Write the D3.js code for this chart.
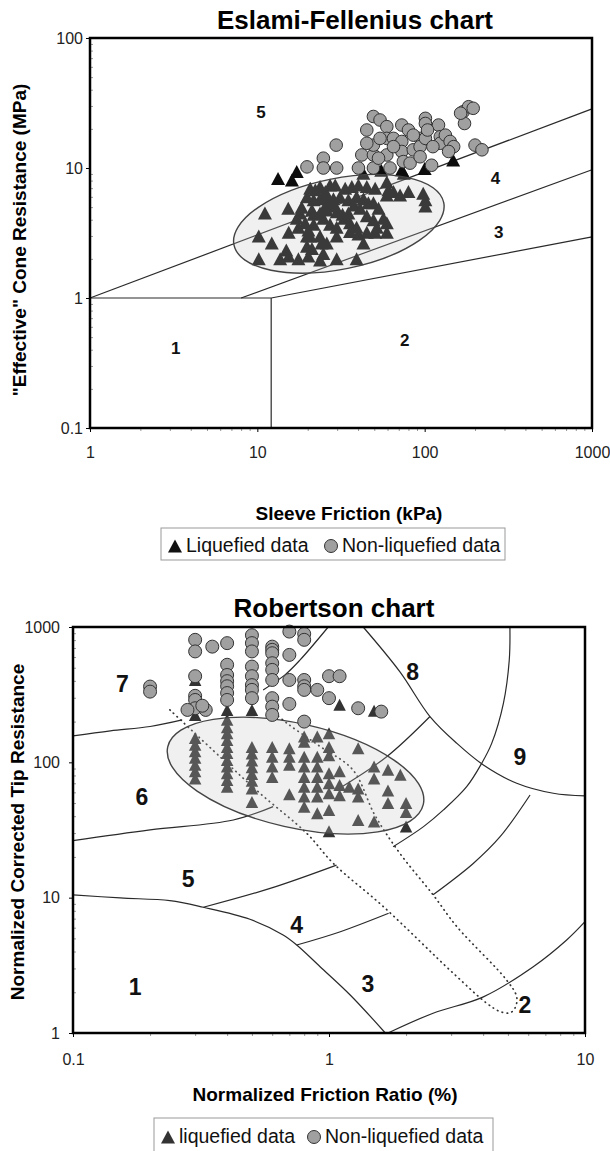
<!DOCTYPE html>
<html>
<head>
<meta charset="utf-8">
<script src="https://cdn.jsdelivr.net/npm/d3@7"></script>
<style>
body { margin: 0; background: #fff; }
svg { display: block; font-family: "Liberation Sans", Arial, sans-serif; }
.zone-line { fill: none; stroke: #2a2a2a; stroke-width: 1.2; }
.dotted { fill: none; stroke: #333; stroke-width: 1.7; stroke-dasharray: 0.5,4.5; stroke-linecap: round; }
.frame { fill: none; stroke: #000; stroke-width: 2.5; }
</style>
</head>
<body>
<svg width="610" height="1151"></svg>
<script>

//// Eslami-Fellenius chart : [sleeve friction kPa, cone resistance MPa]

var efLiquefied = [
  [13.3,8.3],[16.1,8.1],[17.2,9.4],[43,9.1],[55,9.6],[73,9.7],[75,9.1],[100,9.9],[148,11.5],
  [20.7,7.0],[23.7,7.2],[27.2,7.4],[29.2,7.4],[33.5,7.0],[36.7,7.2],[40.2,7.4],[45.1,7.2],[50.6,7.0],[59.4,7.8],[60.7,6.8],[71.3,6.2],[80,6.6],[98,6.4],[101,5.7],[101,5.1],
  [15.3,4.9],[19.8,6.0],[21.7,5.7],[23.7,5.8],[26,6.0],[28.5,5.8],[31.2,6.0],[35,5.7],[39.2,6.0],[43.1,5.8],[49.4,5.4],[53,4.9],[21.2,4.75],[18,4.5],
  [11.1,4.5],[17.2,4.1],[19.3,3.8],[21.7,3.7],[24.8,4.1],[27.2,3.7],[29.8,3.5],[33,4.1],[35.8,3.8],[39.2,3.5],[45.1,4.3],[49.4,4.0],[51.8,3.5],[56.7,4.1],[59.4,3.8],[23.7,4.5],[26,4.75],[29.8,4.6],[41.1,4.9],[35,4.5],
  [10.2,3.0],[12.2,2.65],[15.4,3.2],[17.6,3.5],[20.2,3.34],[23.7,3.0],[26,2.65],[29.8,3.0],[35.8,3.25],[40.2,3.1],[45.1,3.2],[50.6,3.2],[59.4,3.2],[20.7,3.0],
  [10.2,2.0],[13.7,2.0],[14.9,2.34],[15.4,2.1],[17.6,2.0],[20.2,2.1],[21.2,2.4],[23.7,1.96],[24.8,2.2],[29.8,2.0],[39.2,2.0],[19.8,2.5],[24.2,2.65],
  [22.2,6.8],[25.5,6.6],[27.2,5.4],[25.5,5.1],[29.2,5.1],[21.7,4.4],[32.3,4.4],[37.9,5.2],[46.1,5.4],[18.4,5.0],[59.4,6.2],[65.1,6.6],[19.8,3.0],[43.1,2.65]
];

var efNonLiquefied = [
  [29.6,15.0],[24.8,11.9],[24.8,10.0],[29.8,10.0],[19.8,10.2],[40.2,10.0],[42.1,12.6],[49.4,12.6],[49.4,15.0],[45.1,19.6],
  [49.4,24.9],[54.1,23.4],[59.4,20.8],[59.4,16.9],[65.1,16.9],[59.4,12.6],[62.1,10.0],[73,21.4],[73,16.0],[73,13.4],
  [74.6,11.2],[81.8,10.9],[80,19.6],[85.5,13.8],[93.9,16.9],[93.9,14.6],[93.9,12.2],[101,24.1],[101,22.0],[101,16.9],
  [110,10.5],[121,21.4],[124,17.4],[124,15.5],[133,17.9],[142,16.0],[149,14.6],[139,13.4],[170,27.1],[183,29.6],
  [195,28.8],[173,22.0],[200,15.0],[49.4,10.0],[54.1,16.9],[65.1,14.6],[85.5,17.9],[112,14.6],[104,19.6],[45.1,15.5],
  [53,11.9],[220,13.8],[164,26.4]
];

var efBoundaries = [
  [[1,1],[12.1,1]],
  [[12.1,0.1],[12.1,1]],
  [[1,1],[1000,28.5]],
  [[8,1],[1000,9.7]],
  [[12.1,1],[1000,2.95]]
];

var efZones = [["5",10.5,27],["4",265,8.4],["3",277,3.2],["1",3.25,0.41],["2",76,0.48]];
var efXTicks = [1,10,100,1000];
var efYTicks = [0.1,1,10,100];

//// Robertson chart : [normalized friction ratio %, normalized tip resistance]

var robLiquefied = [
  [0.3,151],[0.3,135],[0.3,121],[0.3,108],[0.3,96],[0.3,86],[0.3,76],[0.3,224],[0.3,406],
  [0.4,244],[0.4,206],[0.4,182],[0.4,164],[0.4,146],[0.4,130],[0.4,117],[0.4,104],[0.4,93],[0.4,83],[0.4,74],[0.4,66],
  [0.5,244],[0.5,130],[0.5,116],[0.5,103],[0.5,92],[0.5,82],[0.5,73],[0.5,64],[0.5,51],
  [0.6,130],[0.6,110],[0.6,93],[0.6,78],
  [0.7,127],[0.7,110],[0.7,96],[0.7,58],
  [0.8,155],[0.8,142],[0.8,110],[0.8,93],[0.8,78],[0.8,66],[0.8,56],[0.8,47],
  [0.9,155],[0.9,110],[0.9,93],[0.9,78],[0.9,66],[0.9,56],[0.9,42],
  [1.0,164],[1.0,130],[1.0,113],[1.0,83],[1.0,70],[1.0,59],[1.0,44.5],[1.0,31],
  [1.1,86],[1.1,68],[1.1,57],[1.1,266],
  [1.2,66],
  [1.3,127],[1.3,64],[1.3,56],[1.3,37.5],
  [1.5,93],[1.5,76],[1.5,36.5],[1.5,241],
  [1.7,88],[1.7,62],[1.7,50],
  [1.9,81],
  [2.0,50],[2.0,43],[2.0,33.5]
];

var robNonLiquefied = [
  [0.2,363],[0.2,333],
  [0.3,804],[0.3,660],[0.3,433],[0.3,310],[0.3,289],[0.3,251],[0.28,244],[0.33,244],[0.32,262],
  [0.35,716],
  [0.4,760],[0.4,526],[0.4,442],[0.4,398],[0.4,365],[0.4,325],[0.4,289],
  [0.5,870],[0.5,760],[0.5,660],[0.5,510],[0.5,433],[0.5,372],[0.5,343],[0.5,298],
  [0.6,716],[0.6,678],[0.6,640],[0.6,540],[0.6,482],[0.6,406],[0.6,298],[0.6,258],[0.6,224],
  [0.7,925],[0.7,622],[0.7,406],[0.7,270],
  [0.8,890],[0.8,804],[0.8,406],[0.8,365],[0.8,343],[0.8,200],
  [0.9,343],[1.0,298],[1.0,433],[1.1,433],[1.3,251],[1.6,237]
];

var robBoundaries = [
  [[1.36,1000],[1.89,468],[2.48,218],[3.16,138],[4.01,95.6],[5.41,70.1],[7.52,59.1],[10,56.5]],
  [[5.09,1000],[5.06,571],[4.8,273],[4.32,138],[3.95,98.5],[3.45,66.1],[2.8,44.5],[2.34,33.5],[1.78,23.8]],
  [[2.48,218],[1.68,110],[1.10,64.4]],
  [[0.553,343],[0.673,443],[0.771,571],[0.993,1000]],
  [[0.1,157],[0.14,171],[0.2,184],[0.267,206]],
  [[0.1,10.5],[0.153,9.95],[0.239,9.5],[0.323,8.49],[0.491,6.92],[0.662,5.3],[0.748,4.47],[0.923,3.09],[1.21,1.91],[1.66,1]],
  [[1.7,1.0],[2.55,1.4],[4.01,1.85],[6.28,3.09],[8.48,4.87],[10,6.65]],
  [[0.323,8.49],[0.589,11.7],[1.07,17.4]],
  [[0.748,4.47],[1.10,5.58],[1.71,7.67]],
  [[0.1,26.4],[0.2,31.7],[0.423,37.5],[0.605,47.1]],
  [[2.55,10.5],[3.66,17.9],[4.66,28.2],[6.1,57.4]]
];

var robDotted = [
  [0.239,244],[0.375,110],[0.537,59.1],[0.818,29.9],[1.04,17.9],[1.63,8.59],[3.06,2.76],[4.13,1.66],[4.66,1.44],
  [5.09,1.41],[5.33,1.53],[5.41,1.85],[4.94,2.46],[3.16,6.1],[2.55,10.5],[1.89,21.3],[1.51,40.8],[1.24,87.9],
  [0.923,131],[0.684,195],[0.562,266]
];

var robZones = [["7",0.156,384],["8",2.12,468],["9",5.57,110],["6",0.186,55.8],["5",0.282,13.9],["4",0.748,6.29],["1",0.175,2.2],["3",1.42,2.33],["2",5.83,1.61]];
var robXTicks = [0.1,1,10];
var robYTicks = [1,10,100,1000];

var svg = d3.select("svg");

function minorTicks(domain) {
  var out = [];
  for (var p = Math.log10(domain[0]); p < Math.log10(domain[1]) - 0.01; p++) {
    for (var k = 2; k < 10; k++) out.push(k * Math.pow(10, Math.round(p)));
  }
  return out;
}

// isosceles triangle centred on its box
function tri(w, h) {
  return "M0," + (-h/2) + "L" + (w/2) + "," + (h/2) + "L" + (-w/2) + "," + (h/2) + "Z";
}

function drawChart(c) {
  var x = d3.scaleLog().domain(c.xDomain).range([c.left, c.right]),
      y = d3.scaleLog().domain(c.yDomain).range([c.bottom, c.top]);
  var g = svg.append("g");

  // minor ticks
  g.append("g").attr("transform", "translate(0," + c.bottom + ")")
    .call(d3.axisBottom(x).tickValues(minorTicks(c.xDomain)).tickSize(3).tickFormat(""))
    .call(s => s.select(".domain").remove())
    .selectAll("line").attr("stroke", "#999");
  g.append("g").attr("transform", "translate(" + c.left + ",0)")
    .call(d3.axisLeft(y).tickValues(minorTicks(c.yDomain)).tickSize(-3).tickFormat(""))
    .call(s => s.select(".domain").remove())
    .selectAll("line").attr("stroke", "#999");

  // major ticks + labels
  var xa = g.append("g").attr("transform", "translate(0," + c.bottom + ")")
    .call(d3.axisBottom(x).tickValues(c.xTicks).tickSize(4).tickPadding(c.xPad).tickFormat(d3.format("~g")));
  var ya = g.append("g").attr("transform", "translate(" + c.left + ",0)")
    .call(d3.axisLeft(y).tickValues(c.yTicks).tickSize(4).tickPadding(c.yPad).tickFormat(d3.format("~g")));
  [xa, ya].forEach(function(a) {
    a.select(".domain").remove();
    a.selectAll("text").attr("font-family", null).attr("font-size", 16).attr("fill", "#222");
  });

  var line = d3.line().x(d => x(d[0])).y(d => y(d[1])).curve(c.curve);

  g.selectAll(".zone-line").data(c.boundaries).enter()
    .append("path").attr("class", "zone-line").attr("d", line);

  if (c.dotted) {
    g.append("path").attr("class", "dotted").attr("d", line(c.dotted));
  }

  g.selectAll(".zone-lbl").data(c.zones).enter()
    .append("text").attr("class", "zone-lbl")
    .attr("x", d => x(d[1])).attr("y", d => y(d[2]))
    .attr("dy", "0.36em").attr("text-anchor", "middle")
    .attr("font-weight", "bold").attr("font-size", c.zoneSize).attr("fill", "#111")
    .text(d => d[0]);

  g.selectAll(".liq").data(c.liq).enter()
    .append("path").attr("class", "liq")
    .attr("transform", d => "translate(" + x(d[0]) + "," + y(d[1]) + ")")
    .attr("d", tri(c.triW, c.triH)).attr("fill", c.triColor);

  // translucent zone ellipse drawn over the liquefied points
  g.append("ellipse")
    .attr("transform", "translate(" + x(c.ellipse.c[0]) + "," + y(c.ellipse.c[1]) + ") rotate(" + c.ellipse.angle + ")")
    .attr("rx", c.ellipse.rx).attr("ry", c.ellipse.ry)
    .attr("fill", "rgb(195,195,195)").attr("fill-opacity", 0.25)
    .attr("stroke", "#444").attr("stroke-width", 1.4);

  g.selectAll(".non").data(c.non).enter()
    .append("circle").attr("class", "non")
    .attr("cx", d => x(d[0])).attr("cy", d => y(d[1])).attr("r", c.circR)
    .attr("fill", "#a0a0a0").attr("stroke", "#333").attr("stroke-width", 1);

  g.append("rect").attr("class", "frame")
    .attr("x", c.left).attr("y", c.top)
    .attr("width", c.right - c.left).attr("height", c.bottom - c.top);

  // titles
  g.append("text").attr("x", c.titleX).attr("y", c.titleY).attr("text-anchor", "middle")
    .attr("font-weight", "bold").attr("font-size", 26).text(c.title);
  g.append("text").attr("x", c.xLabelX).attr("y", c.xLabelY).attr("text-anchor", "middle")
    .attr("font-weight", "bold").attr("font-size", 19).text(c.xLabel);
  g.append("text").attr("transform", "translate(" + c.yLabelX + "," + c.yLabelY + ") rotate(-90)")
    .attr("text-anchor", "middle").attr("font-weight", "bold").attr("font-size", 19).text(c.yLabel);

  // legend
  var lg = g.append("g");
  lg.append("rect").attr("x", c.legend.x).attr("y", c.legend.y)
    .attr("width", c.legend.w).attr("height", c.legend.h)
    .attr("fill", "#fff").attr("stroke", "#999").attr("stroke-width", 1);
  lg.append("path").attr("transform", "translate(" + c.legend.triX + "," + c.legend.symY + ")")
    .attr("d", tri(14, 13)).attr("fill", c.legend.triColor);
  lg.append("text").attr("x", c.legend.triX + 11).attr("y", c.legend.textY)
    .attr("font-size", 19.5).attr("fill", "#111").text(c.legend.liqText);
  lg.append("circle").attr("cx", c.legend.circX).attr("cy", c.legend.symY).attr("r", 6.5)
    .attr("fill", "#a0a0a0").attr("stroke", "#333");
  lg.append("text").attr("x", c.legend.circX + 11).attr("y", c.legend.textY)
    .attr("font-size", 19.5).attr("fill", "#111").text("Non-liquefied data");
}

drawChart({
  xDomain: [1, 1000], yDomain: [0.1, 100],
  left: 90, right: 592, top: 38, bottom: 428,
  xTicks: efXTicks, yTicks: efYTicks, xPad: 15, yPad: 3,
  curve: d3.curveLinear,
  boundaries: efBoundaries, zones: efZones, zoneSize: 17,
  liq: efLiquefied, non: efNonLiquefied,
  triW: 14, triH: 13, triColor: "#0d0d0d", circR: 6.3,
  ellipse: {c: [30.7, 3.72], rx: 107, ry: 45.4, angle: -11.4},
  title: "Eslami-Fellenius chart", titleX: 355, titleY: 29,
  xLabel: "Sleeve Friction (kPa)", xLabelX: 349, xLabelY: 520,
  yLabel: "\"Effective\" Cone Resistance (MPa)", yLabelX: 26, yLabelY: 240,
  legend: {x: 161, y: 528, w: 344, h: 32, triX: 175, circX: 331, symY: 546, textY: 552,
           triColor: "#111", liqText: "Liquefied data"}
});

drawChart({
  xDomain: [0.1, 10], yDomain: [1, 1000],
  left: 73, right: 585, top: 627, bottom: 1033,
  xTicks: robXTicks, yTicks: robYTicks, xPad: 17, yPad: 9,
  curve: d3.curveCatmullRom,
  boundaries: robBoundaries, dotted: robDotted, zones: robZones, zoneSize: 23,
  liq: robLiquefied, non: robNonLiquefied,
  triW: 12.5, triH: 12, triColor: "#333", circR: 6.5,
  ellipse: {c: [0.74, 79.8], rx: 131, ry: 52, angle: 12.7},
  title: "Robertson chart", titleX: 334, titleY: 617,
  xLabel: "Normalized Friction Ratio (%)", xLabelX: 325, xLabelY: 1101,
  yLabel: "Normalized Corrected Tip Resistance", yLabelX: 24, yLabelY: 832,
  legend: {x: 154, y: 1118, w: 339, h: 40, triX: 168, circX: 314, symY: 1137, textY: 1143,
           triColor: "#333", liqText: "liquefied data"}
});

</script>
</body>
</html>
